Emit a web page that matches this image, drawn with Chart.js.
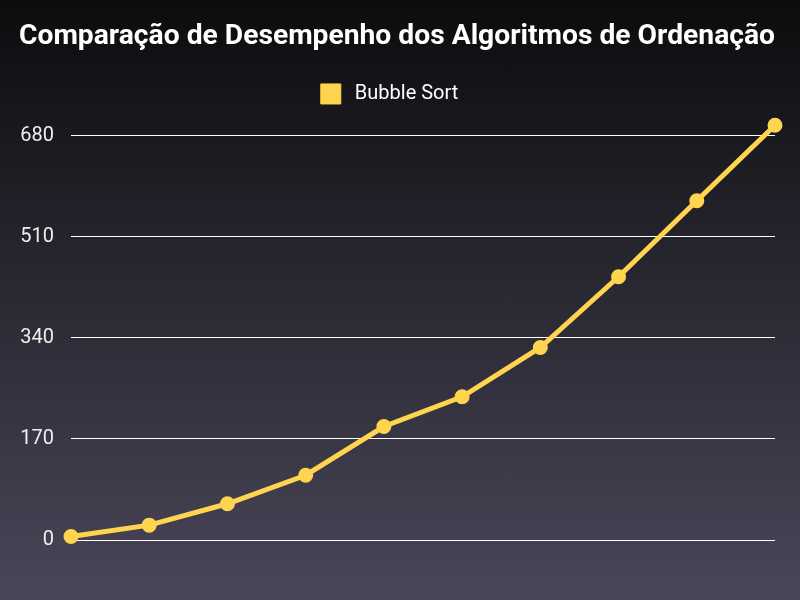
<!DOCTYPE html>
<html>
<head>
<meta charset="utf-8">
<script src="https://cdn.jsdelivr.net/npm/chart.js@4/dist/chart.umd.min.js"></script>
<style>
  html, body { margin: 0; padding: 0; }
  #wrap { width: 800px; height: 600px; background: linear-gradient(to bottom, #0c0c0e 0%, #4a4659 100%); }
</style>
</head>
<body>
<div id="wrap"><canvas id="c" width="800" height="600"></canvas></div>
<script>
const categories = ["100", "200", "300", "400", "500", "600", "700", "800", "900", "1000"];
const bubbleSort = [6, 25, 61, 109, 191, 241, 324, 443, 571, 698];
const yTicks = [0, 170, 340, 510, 680];
const titleText = "Comparação de Desempenho dos Algoritmos de Ordenação";
const seriesName = "Bubble Sort";

new Chart(document.getElementById('c'), {
  type: 'line',
  data: {
    labels: categories,
    datasets: [{
      label: seriesName,
      data: bubbleSort,
      borderColor: '#FFD54F',
      backgroundColor: '#FFD54F',
      pointBackgroundColor: '#FFD54F',
      pointBorderColor: '#FFD54F',
      borderWidth: 5,
      pointRadius: 6.5,
      pointBorderWidth: 2,
      tension: 0,
      fill: false,
      clip: false
    }]
  },
  options: {
    responsive: false,
    animation: false,
    layout: { autoPadding: false, padding: { top: 10, left: 19, right: 25, bottom: 60 } },
    plugins: {
      title: {
        display: true,
        text: titleText,
        color: '#ffffff',
        font: { family: 'Roboto', size: 28.3, weight: 'bold' },
        padding: { top: 10, bottom: 20 }
      },
      legend: {
        display: true,
        labels: {
          color: '#ffffff',
          font: { family: 'Roboto', size: 20 },
          boxWidth: 20,
          boxHeight: 20,
          padding: 10,
          generateLabels: (chart) => {
            const items = Chart.defaults.plugins.legend.labels.generateLabels(chart);
            items.forEach(it => { it.lineWidth = 1; it.text = '\u2009' + it.text + '   '; });
            return items;
          }
        }
      },
      tooltip: { enabled: false }
    },
    scales: {
      x: { display: false, offset: false },
      y: {
        min: 0,
        max: 717,
        afterBuildTicks: (axis) => { axis.ticks = yTicks.map(v => ({ value: v })); },
        afterFit: (axis) => { axis.width = 52; },
        grid: { color: '#ffffff', lineWidth: 1, drawTicks: false },
        border: { display: false },
        ticks: {
          color: '#eeeeee',
          font: { family: 'Roboto', size: 20 },
          padding: 17
        }
      }
    }
  }
});
</script>
</body>
</html>
